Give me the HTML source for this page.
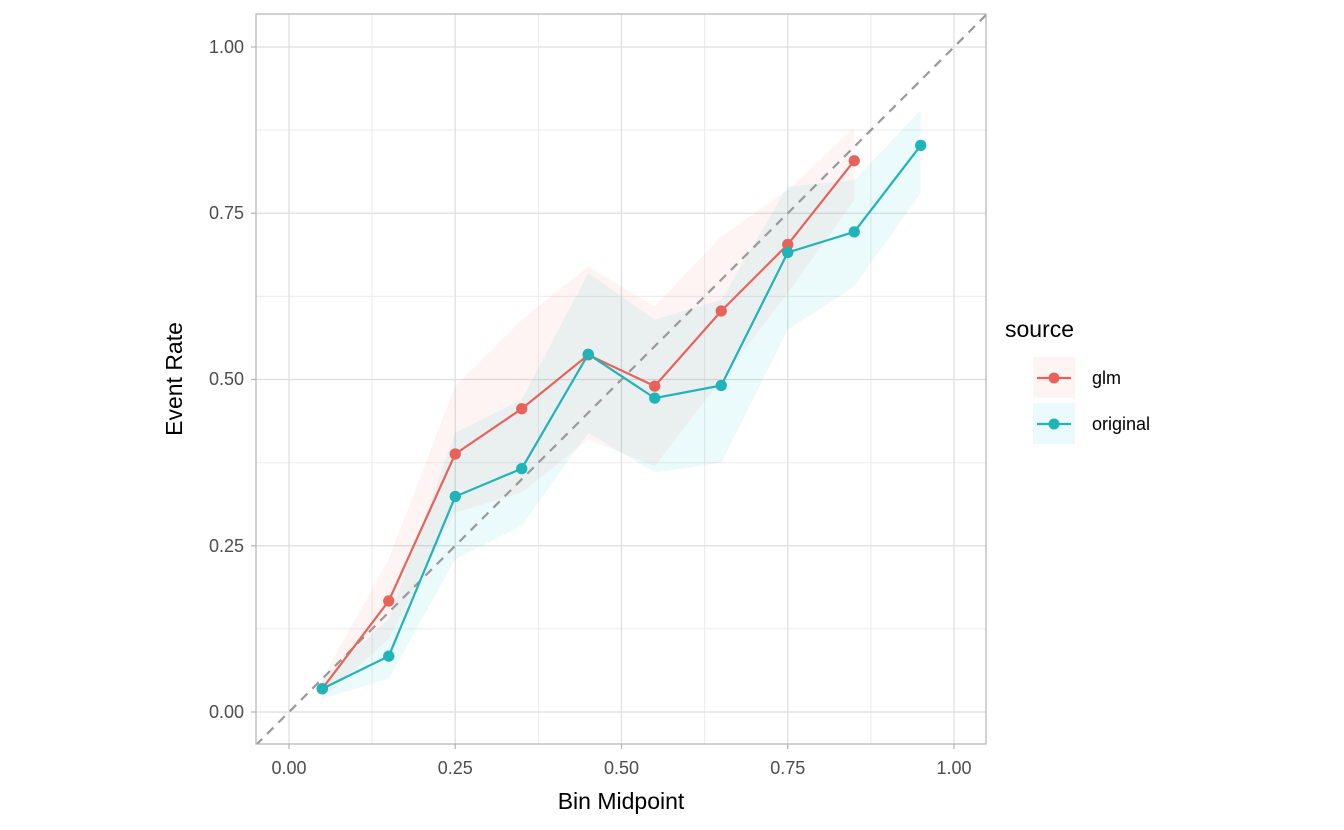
<!DOCTYPE html>
<html><head><meta charset="utf-8"><style>
html,body{margin:0;padding:0;background:#fff;}
svg{display:block;font-family:"Liberation Sans",sans-serif;}
</style></head><body>
<svg width="1344" height="830" viewBox="0 0 1344 830">
<rect width="1344" height="830" fill="#fff"/>
<defs><clipPath id="c"><rect x="256" y="14" width="730" height="730"/></clipPath></defs>
<g stroke="#EBEBEB" stroke-width="1">
<line x1="256" x2="986" y1="628.9" y2="628.9"/><line x1="256" x2="986" y1="462.6" y2="462.6"/>
<line x1="256" x2="986" y1="296.4" y2="296.4"/><line x1="256" x2="986" y1="130.1" y2="130.1"/>
<line y1="14" y2="744" x1="372.1" x2="372.1"/><line y1="14" y2="744" x1="538.4" x2="538.4"/>
<line y1="14" y2="744" x1="704.6" x2="704.6"/><line y1="14" y2="744" x1="870.9" x2="870.9"/>
</g>
<g stroke="#DEDEDE" stroke-width="1.2">
<line x1="256" x2="986" y1="712" y2="712"/><line x1="256" x2="986" y1="545.75" y2="545.75"/>
<line x1="256" x2="986" y1="379.5" y2="379.5"/><line x1="256" x2="986" y1="213.25" y2="213.25"/>
<line x1="256" x2="986" y1="47" y2="47"/>
<line y1="14" y2="744" x1="289" x2="289"/><line y1="14" y2="744" x1="455.25" x2="455.25"/>
<line y1="14" y2="744" x1="621.5" x2="621.5"/><line y1="14" y2="744" x1="787.75" x2="787.75"/>
<line y1="14" y2="744" x1="954" x2="954"/>
</g>
<g clip-path="url(#c)">
<g transform="translate(289,712) scale(665,-665)">
<polygon fill="#F8766D" fill-opacity="0.08" points="0.05,0.05 0.15,0.23 0.25,0.49 0.35,0.59 0.45,0.67 0.55,0.61 0.65,0.715 0.75,0.785 0.85,0.88 0.85,0.77 0.75,0.63 0.65,0.50 0.55,0.37 0.45,0.41 0.35,0.33 0.25,0.30 0.15,0.11 0.05,0.02"/>
<polygon fill="#00BFC4" fill-opacity="0.08" points="0.05,0.05 0.15,0.14 0.25,0.42 0.35,0.47 0.45,0.66 0.55,0.59 0.65,0.62 0.75,0.79 0.85,0.80 0.95,0.905 0.95,0.78 0.85,0.64 0.75,0.575 0.65,0.375 0.55,0.36 0.45,0.42 0.35,0.28 0.25,0.23 0.15,0.05 0.05,0.02"/>
<line x1="-0.05" y1="-0.05" x2="1.05" y2="1.05" stroke="#999" stroke-width="2.2" stroke-dasharray="9 7" vector-effect="non-scaling-stroke"/>
<polyline fill="none" stroke="#E8625C" stroke-width="2.2" vector-effect="non-scaling-stroke" points="0.05,0.035 0.15,0.167 0.25,0.388 0.35,0.456 0.45,0.537 0.55,0.49 0.65,0.603 0.75,0.703 0.85,0.829"/>
<polyline fill="none" stroke="#1FB4B7" stroke-width="2.2" vector-effect="non-scaling-stroke" points="0.05,0.035 0.15,0.084 0.25,0.324 0.35,0.366 0.45,0.538 0.55,0.472 0.65,0.491 0.75,0.691 0.85,0.722 0.95,0.852"/>
<g fill="#E8625C">
<circle cx="0.05" cy="0.035" r="0.0085"/><circle cx="0.15" cy="0.167" r="0.0085"/><circle cx="0.25" cy="0.388" r="0.0085"/><circle cx="0.35" cy="0.456" r="0.0085"/><circle cx="0.45" cy="0.537" r="0.0085"/><circle cx="0.55" cy="0.49" r="0.0085"/><circle cx="0.65" cy="0.603" r="0.0085"/><circle cx="0.75" cy="0.703" r="0.0085"/><circle cx="0.85" cy="0.829" r="0.0085"/>
</g>
<g fill="#1FB4B7">
<circle cx="0.05" cy="0.035" r="0.0085"/><circle cx="0.15" cy="0.084" r="0.0085"/><circle cx="0.25" cy="0.324" r="0.0085"/><circle cx="0.35" cy="0.366" r="0.0085"/><circle cx="0.45" cy="0.538" r="0.0085"/><circle cx="0.55" cy="0.472" r="0.0085"/><circle cx="0.65" cy="0.491" r="0.0085"/><circle cx="0.75" cy="0.691" r="0.0085"/><circle cx="0.85" cy="0.722" r="0.0085"/><circle cx="0.95" cy="0.852" r="0.0085"/>
</g>
</g>
</g>
<rect x="256" y="14" width="730" height="730" fill="none" stroke="#B3B3B3" stroke-width="1.2"/>
<g stroke="#B3B3B3" stroke-width="1.2">
<line x1="251" x2="256" y1="712" y2="712"/><line x1="251" x2="256" y1="545.75" y2="545.75"/><line x1="251" x2="256" y1="379.5" y2="379.5"/><line x1="251" x2="256" y1="213.25" y2="213.25"/><line x1="251" x2="256" y1="47" y2="47"/>
<line y1="744" y2="749" x1="289" x2="289"/><line y1="744" y2="749" x1="455.25" x2="455.25"/><line y1="744" y2="749" x1="621.5" x2="621.5"/><line y1="744" y2="749" x1="787.75" x2="787.75"/><line y1="744" y2="749" x1="954" x2="954"/>
</g>
<g fill="#4D4D4D" font-size="18" text-anchor="end">
<text x="244" y="718">0.00</text><text x="244" y="552">0.25</text><text x="244" y="385">0.50</text><text x="244" y="219">0.75</text><text x="244" y="53">1.00</text>
</g>
<g fill="#4D4D4D" font-size="18" text-anchor="middle">
<text x="289" y="774">0.00</text><text x="455.25" y="774">0.25</text><text x="621.5" y="774">0.50</text><text x="787.75" y="774">0.75</text><text x="954" y="774">1.00</text>
</g>
<text x="621" y="809" font-size="23" text-anchor="middle" fill="#000">Bin Midpoint</text>
<text transform="translate(182,379) rotate(-90)" font-size="23" text-anchor="middle" fill="#000">Event Rate</text>
<text x="1005" y="337" font-size="23" fill="#000">source</text>
<rect x="1033" y="357" width="42" height="41" fill="#F8766D" fill-opacity="0.08"/>
<line x1="1037" x2="1071" y1="378" y2="378" stroke="#E8625C" stroke-width="2.2"/><circle cx="1054" cy="378" r="5.5" fill="#E8625C"/>
<rect x="1033" y="403" width="42" height="41" fill="#00BFC4" fill-opacity="0.08"/>
<line x1="1037" x2="1071" y1="424" y2="424" stroke="#1FB4B7" stroke-width="2.2"/><circle cx="1054" cy="424" r="5.5" fill="#1FB4B7"/>
<text x="1092" y="384" font-size="18" fill="#000">glm</text>
<text x="1092" y="430" font-size="18" fill="#000">original</text>
</svg>
</body></html>
